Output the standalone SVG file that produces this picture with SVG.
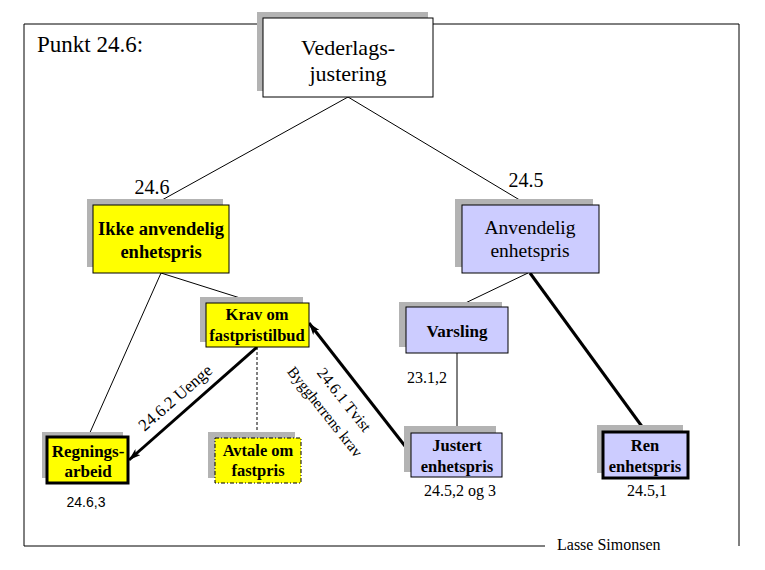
<svg xmlns="http://www.w3.org/2000/svg" width="765" height="570" viewBox="0 0 765 570">
<style>
.t{font-family:"Liberation Serif","Times New Roman",serif;fill:#000}
.b{font-weight:bold}
.s{font-family:"Liberation Sans",Arial,sans-serif;fill:#000}
.sh{fill:#b3b3b3}
.y{fill:#ffff00;stroke:#000;stroke-width:1}
.l{fill:#ccccff;stroke:#000;stroke-width:1}
.ln{stroke:#000;stroke-width:1;fill:none}
.thk{stroke:#000;stroke-width:3;fill:none}
</style>
<defs>
<marker id="ah" viewBox="0 0 12 8" refX="12" refY="4" markerWidth="12" markerHeight="8" markerUnits="userSpaceOnUse" orient="auto">
<path d="M0,0 L12,4 L0,8 L3,4 Z" fill="#000"/>
</marker>
</defs>
<rect width="765" height="570" fill="#fff"/>
<g id="frame">
<line class="ln" x1="24" y1="24" x2="739" y2="24"/>
<line class="ln" x1="24" y1="24" x2="24" y2="546"/>
<line class="ln" x1="739" y1="24" x2="739" y2="546"/>
<line class="ln" x1="24" y1="546" x2="545" y2="546"/>
<text class="t" x="37" y="52" font-size="23">Punkt 24.6:</text>
<text class="t" x="557" y="550" font-size="16">Lasse Simonsen</text>
</g>
<g id="connectors">
<line class="ln" x1="348" y1="97" x2="153" y2="205"/>
<line class="ln" x1="348" y1="97" x2="528" y2="205"/>
<line class="ln" x1="161" y1="273" x2="88" y2="437"/>
<line class="ln" x1="161" y1="273" x2="256" y2="303"/>
<line class="ln" x1="528" y1="273" x2="457" y2="307"/>
<line class="thk" x1="530" y1="273" x2="646" y2="432"/>
<line class="ln" x1="457" y1="353" x2="457" y2="433"/>
<line class="ln" x1="257" y1="347" x2="257" y2="438" stroke-dasharray="3,2"/>
<line class="thk" x1="257" y1="347" x2="129" y2="460" stroke-width="2.8" marker-end="url(#ah)"/>
<line class="thk" x1="412" y1="455" x2="309" y2="323" stroke-width="2.5" marker-end="url(#ah)"/>
<text class="t" font-size="20" x="152" y="194" text-anchor="middle">24.6</text>
<text class="t" font-size="20" x="526" y="187" text-anchor="middle">24.5</text>
<text class="t" font-size="17" text-anchor="middle" transform="translate(179,402) rotate(-41)">24.6.2 Uenge</text>
<text class="t" font-size="16" text-anchor="middle" transform="translate(340,403) rotate(51.5)">24.6.1 Tvist</text>
<text class="t" font-size="15.5" text-anchor="middle" transform="translate(321,415) rotate(51.5)">Byggherrens krav</text>
</g>
<g id="vederlag">
<rect class="sh" x="257" y="12" width="171" height="79"/>
<rect x="263" y="18" width="170" height="79" fill="#fff" stroke="#000"/>
<text class="t" font-size="22" x="348" y="55" text-anchor="middle">Vederlags-</text>
<text class="t" font-size="22" x="348" y="81" text-anchor="middle">justering</text>
</g>
<g id="ikke">
<rect class="sh" x="87" y="199" width="136" height="68"/>
<rect class="y" x="93" y="205" width="136" height="68"/>
<text class="t b" font-size="18.5" x="161" y="235" text-anchor="middle">Ikke anvendelig</text>
<text class="t b" font-size="18.5" x="161" y="258" text-anchor="middle">enhetspris</text>
</g>
<g id="anvendelig">
<rect class="sh" x="455" y="199" width="138" height="68"/>
<rect class="l" x="462" y="205" width="137" height="68"/>
<text class="t" font-size="19.5" x="530" y="234" text-anchor="middle">Anvendelig</text>
<text class="t" font-size="19.5" x="530" y="257" text-anchor="middle">enhetspris</text>
</g>
<g id="krav">
<rect class="sh" x="200" y="297" width="103" height="45"/>
<rect class="y" x="206" y="303" width="103" height="44"/>
<text class="t b" font-size="16.5" x="257" y="320" text-anchor="middle">Krav om</text>
<text class="t b" font-size="16.5" x="257" y="341" text-anchor="middle">fastpristilbud</text>
</g>
<g id="varsling">
<rect class="sh" x="399" y="302" width="103" height="45"/>
<rect class="l" x="406" y="307" width="102" height="46"/>
<text class="t b" font-size="17" x="457" y="337" text-anchor="middle">Varsling</text>
<text class="t" font-size="16" x="407" y="383">23.1,2</text>
</g>
<g id="regning">
<rect class="sh" x="42" y="432" width="81" height="46"/>
<rect x="47" y="437" width="81" height="46" fill="#ffff00" stroke="#000" stroke-width="3"/>
<text class="t b" font-size="17" x="88" y="457" text-anchor="middle">Regnings-</text>
<text class="t b" font-size="17" x="88" y="477" text-anchor="middle">arbeid</text>
<text class="s" font-size="14" x="86" y="507" text-anchor="middle">24.6,3</text>
</g>
<g id="avtale">
<rect class="sh" x="208" y="432" width="87" height="46"/>
<rect x="215" y="438" width="86" height="45" fill="#ffff00" stroke="#000" stroke-width="1" stroke-dasharray="4,2,1,2"/>
<text class="t b" font-size="16.5" x="258" y="456" text-anchor="middle">Avtale om</text>
<text class="t b" font-size="16.5" x="258" y="476" text-anchor="middle">fastpris</text>
</g>
<g id="justert">
<rect class="sh" x="404" y="426" width="92" height="46"/>
<rect class="l" x="411" y="433" width="91" height="44"/>
<text class="t b" font-size="16.5" x="457" y="451" text-anchor="middle">Justert</text>
<text class="t b" font-size="16.5" x="457" y="472" text-anchor="middle">enhetspris</text>
<text class="t" font-size="16" x="460" y="496" text-anchor="middle">24.5,2 og 3</text>
</g>
<g id="ren">
<rect class="sh" x="597" y="425" width="86" height="48"/>
<rect x="603" y="432" width="85" height="46" fill="#ccccff" stroke="#000" stroke-width="3"/>
<text class="t b" font-size="16.5" x="645" y="451" text-anchor="middle">Ren</text>
<text class="t b" font-size="16.5" x="645" y="472" text-anchor="middle">enhetspris</text>
<text class="t" font-size="16" x="647" y="496" text-anchor="middle">24.5,1</text>
</g>
</svg>
